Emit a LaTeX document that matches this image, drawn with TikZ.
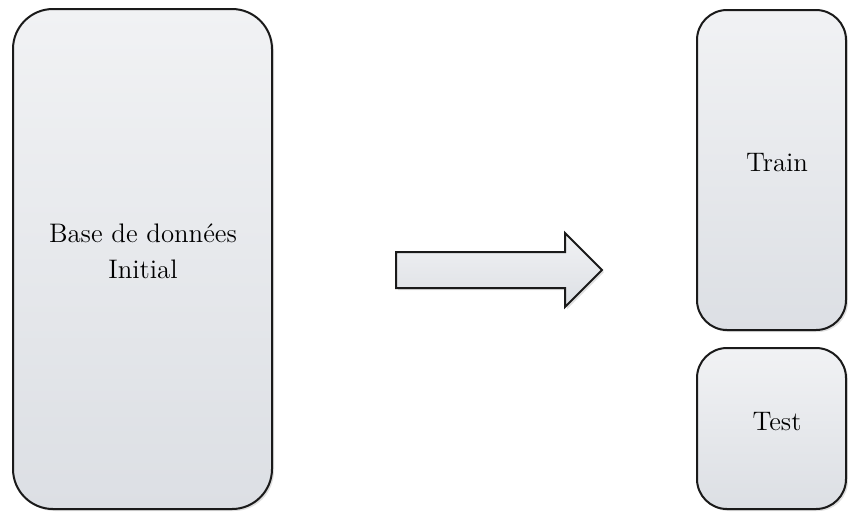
\documentclass[tikz,border=0pt]{standalone}
\usetikzlibrary{shadows}
\definecolor{boxtop}{HTML}{F1F2F4}
\definecolor{boxbot}{HTML}{DCDFE4}
\definecolor{boxline}{HTML}{1A1A1A}
\tikzset{
  px/.style={x=0.5pt,y=-0.5pt},
  panel/.style={draw=boxline, line width=1pt, top color=boxtop, bottom color=boxbot,
    drop shadow={shadow xshift=1pt, shadow yshift=-1pt, opacity=0.25}},
  lbl/.style={font=\fontsize{13.4}{18}\selectfont, align=center, inner sep=0pt},
}
\begin{document}
\begin{tikzpicture}[px]
\useasboundingbox (0,0) rectangle (848,511);
% initial database
\path[panel, rounded corners=20pt] (13,9) rectangle (272,509);
\node[lbl] (base) at (143,251) {Base de donn\'ees\\Initial};
% train / test
\path[panel, rounded corners=15pt] (697,10) rectangle (846,330);
\node[lbl] (train) at (777,163) {Train};
\path[panel, rounded corners=15pt] (697,348) rectangle (846,509);
\node[lbl] (test) at (777,422) {Test};
% block arrow
\coordinate (a1) at (396,252);
\coordinate (a2) at (565,252);
\coordinate (a3) at (565,233);
\coordinate (tip) at (602,270);
\coordinate (a5) at (565,307);
\coordinate (a6) at (565,288);
\coordinate (a7) at (396,288);
\path[panel, line join=miter] (a1) -- (a2) -- (a3) -- (tip) -- (a5) -- (a6) -- (a7) -- cycle;
\end{tikzpicture}
\end{document}
